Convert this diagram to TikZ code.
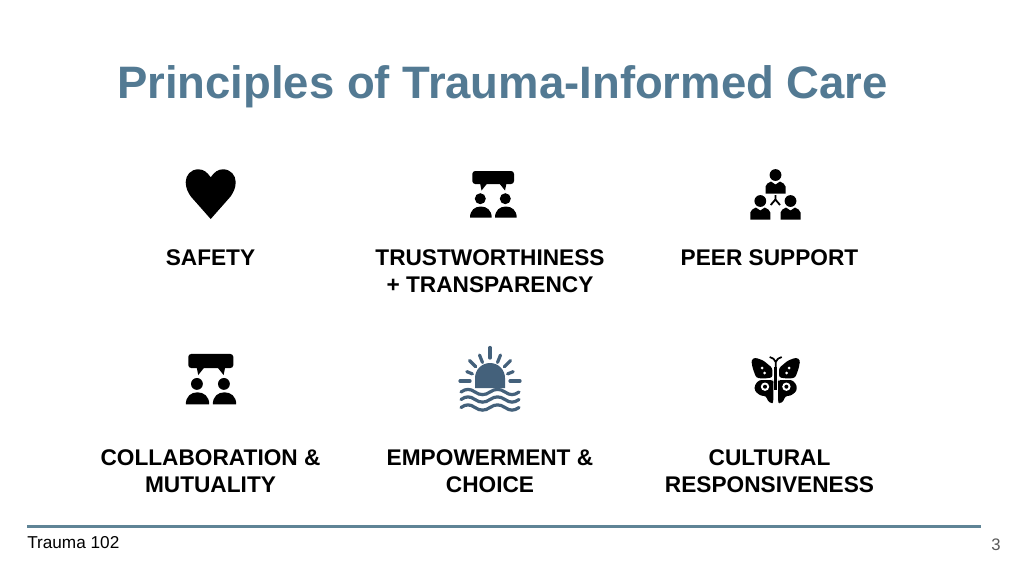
\documentclass[tikz,border=0pt]{standalone}
\usepackage{fontspec}
\usetikzlibrary{calc}
\setmainfont{Liberation Sans}
\definecolor{titleblue}{HTML}{537A93}
\definecolor{rulecol}{HTML}{5F8496}
\definecolor{sunblue}{HTML}{44617B}
\definecolor{pagegray}{HTML}{595959}
\tikzset{
  lbl/.style={font=\fontsize{17}{20.25}\selectfont\bfseries,align=center,text=black,inner sep=0pt},
  title/.style={font=\fontsize{34.1}{40}\selectfont\bfseries,text=titleblue,inner sep=0pt},
  ray/.style={sunblue,line width=2.4pt,line cap=round},
  wave/.style={sunblue,line width=2.4pt,line cap=round},
  talk/.pic={
    \fill[black,rounded corners=2.2pt] (472.3,171) rectangle (514,184);
    \fill[black] (480,183) -- (487.5,183) -- (481.5,190.5) -- cycle;
    \fill[black] (499,183) -- (506.5,183) -- (505,190.5) -- cycle;
    \fill[black] (480.3,198.7) circle (5.5);
    \fill[black] (505.3,198.7) circle (5.5);
    \fill[black] (470,217.7) .. controls (470,210) and (475,206.5) .. (480.8,206.5) .. controls (486.6,206.5) and (491.7,210) .. (491.7,217.7) -- cycle;
    \fill[black] (495,217.7) .. controls (495,210) and (500,206.5) .. (505.8,206.5) .. controls (511.6,206.5) and (516.7,210) .. (516.7,217.7) -- cycle;
  },
  person/.pic={
    \fill[black] (0,-6.5) circle (5.9);
    \fill[black] (-10,12) -- (-10,5) .. controls (-10,2.5) and (-7,1.5) .. (-4.5,0) -- (0,3) -- (4.5,0) .. controls (7,1.5) and (10,2.5) .. (10,5) -- (10,12) -- cycle;
  },
  bwing/.pic={
    \fill[black,rounded corners=1.8pt] (-24.5,-31) -- (-20.7,-33.5) -- (-12.3,-30.5) -- (-3.3,-23) -- (-3.3,-13.5) -- (-12.3,-12.4) -- (-19.5,-13.2) -- (-23,-22.7) -- cycle;
    \fill[white] (-13.5,-23) circle (1.5);
    \fill[white] (-11,-18) circle (1.5);
    \fill[black,rounded corners=1.8pt] (-2.8,-11) -- (-16.5,-11) -- (-21,-6) -- (-21,0) -- (-15,4.8) -- (-9.5,5) -- (-8,10) -- (-4,12.8) -- (-2.3,10.7) -- (-2.3,-9.3) -- cycle;
    \fill[white] (-10.7,-4.3) circle (4.2);
    \fill[black] (-10.7,-4.3) circle (2);
  }
}
\begin{document}
\begin{tikzpicture}[x=0.75pt,y=-0.75pt]
\useasboundingbox (0,0) rectangle (1024,576);
\fill[white] (0,0) rectangle (1024,576);

\node[title] (ttl) at (502.5,86.5) {Principles of Trauma-Informed Care};

% heart
\fill[black] (210.7,177.3) .. controls (207,172) and (203.5,169.3) .. (198.3,169.3) .. controls (191,169.3) and (185.7,175) .. (185.7,182) .. controls (185.7,188) and (188,192.5) .. (191,196.7) -- (210.7,219) -- (230.4,196.7) .. controls (233.4,192.5) and (235.7,188) .. (235.7,182) .. controls (235.7,175) and (230.4,169.3) .. (223.1,169.3) .. controls (217.9,169.3) and (214.4,172) .. (210.7,177.3) -- cycle;

% speech icons
\pic at (0,0) {talk};
\pic[scale=1.08] at (-321.8,169.3) {talk};

% peer support
\pic at (775.5,181.5) {person};
\pic at (760.3,207.5) {person};
\pic at (790.5,207.5) {person};
\draw[black,line width=1.35pt] (775.4,195) -- (775.4,199.5) (770.7,205) -- (775.4,199.5) -- (780,205);

% sun
\fill[sunblue] (475,388) -- (475,378) arc[start angle=180,end angle=360,radius=15] -- (505,388) -- cycle;
\foreach \a/\ra/\rb in {0/20/30, 180/20/30, 22/19/25, 158/19/25, 45/20/29, 135/20/29, 68/20/28, 112/20/28, 90/23/33.5}{
  \draw[ray] ($(490,381)+(-\a:\ra)$) -- ($(490,381)+(-\a:\rb)$);
}
\foreach \yy in {392,399.5,407.5}{
  \draw[wave] (461,\yy) .. controls (466,\yy-3.5) and (470,\yy-3.5) .. (475,\yy) .. controls (480,\yy+3.5) and (485,\yy+3.5) .. (490,\yy) .. controls (495,\yy-3.5) and (500,\yy-3.5) .. (505,\yy) .. controls (510,\yy+3.5) and (514,\yy+3.5) .. (519,\yy);
}

% butterfly
\begin{scope}[shift={(775.7,391)}]
\pic {bwing};
\pic[xscale=-1] {bwing};
\fill[black] (-1.4,-24) rectangle (1.4,-1);
\draw[black,line width=1.3pt] (0,-24) -- (0,-29) .. controls (-1,-32) and (-3,-33) .. (-6,-34) (0,-29) .. controls (1,-32) and (3,-33) .. (6,-34);
\end{scope}

% labels
\node[lbl] (a) at (210.5,258) {SAFETY};
\node[lbl] (b) at (490,271.5) {TRUSTWORTHINESS\\+ TRANSPARENCY};
\node[lbl] (c) at (769.5,258) {PEER SUPPORT};
\node[lbl] (d) at (210.5,471) {COLLABORATION \&\\MUTUALITY};
\node[lbl] (e) at (490,471) {EMPOWERMENT \&\\CHOICE};
\node[lbl] (f) at (769.5,471) {CULTURAL\\RESPONSIVENESS};

% footer
\coordinate (r1) at (27,526.5);
\coordinate (r2) at (981,526.5);
\draw[rulecol,line width=2.25pt] (r1) -- (r2);
\node[anchor=base west,inner sep=0pt,font=\fontsize{12.9}{15}\selectfont] (ft) at (27,548.5) {Trauma 102};
\node[anchor=base,inner sep=0pt,text=pagegray,font=\fontsize{12.5}{15}\selectfont] (pg) at (996,550) {3};
\end{tikzpicture}
\end{document}
